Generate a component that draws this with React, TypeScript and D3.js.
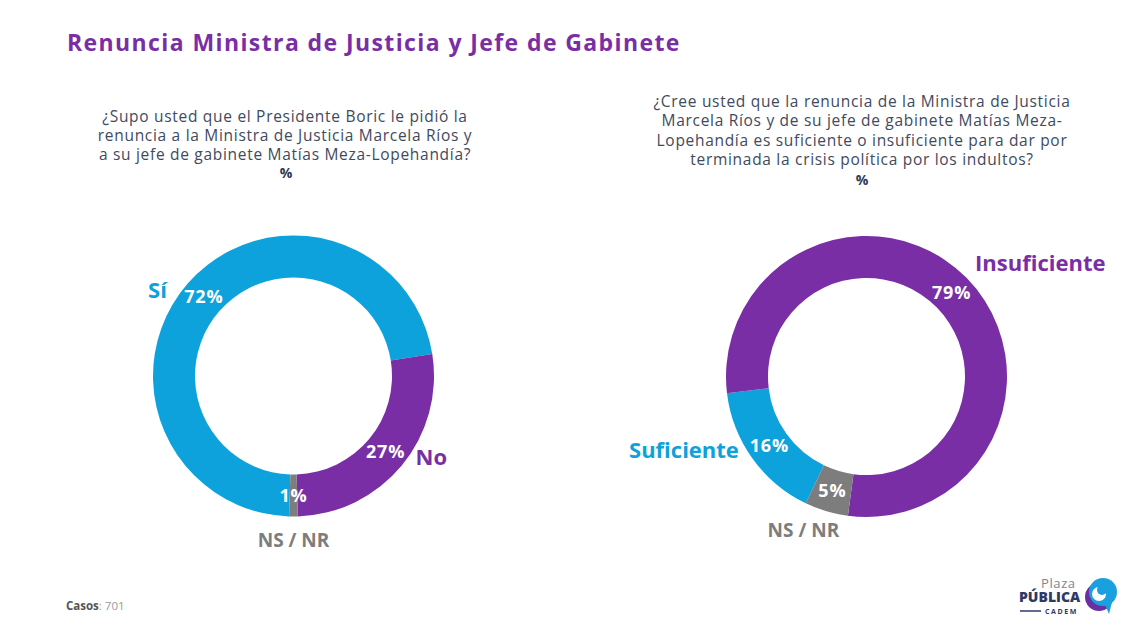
import React from "react";
import * as d3 from "d3";

// chart data
const leftCategories = ["Sí", "No", "NS / NR"];
const leftValues = [72, 27, 1];
const rightCategories = ["Suficiente", "Insuficiente", "NS / NR"];
const rightValues = [16, 79, 5];

const title = "Renuncia Ministra de Justicia y Jefe de Gabinete";
const leftQuestion = [
  "¿Supo usted que el Presidente Boric le pidió la",
  "renuncia a la Ministra de Justicia Marcela Ríos y",
  "a su jefe de gabinete Matías Meza-Lopehandía?",
];
const rightQuestion = [
  "¿Cree usted que la renuncia de la Ministra de Justicia",
  "Marcela Ríos y de su jefe de gabinete Matías Meza-",
  "Lopehandía es suficiente o insuficiente para dar por",
  "terminada la crisis política por los indultos?",
];
const casos = "701";

const BLUE = "#0ea2dc";
const PURPLE = "#7a2ea6";
const GRAY = "#7d7d7d";
const TEXT = "#3e4a5e";
const FONT = "'Open Sans', sans-serif";

const colorFor: Record<string, string> = {
  "Sí": BLUE,
  "Suficiente": BLUE,
  "No": PURPLE,
  "Insuficiente": PURPLE,
  "NS / NR": GRAY,
};

type LabelPos = { dx: number; dy: number; anchor: string };

const deg = (d: number) => (d * Math.PI) / 180;

const Donut = ({
  cx,
  cy,
  categories,
  values,
  start,
  labelPos,
}: {
  cx: number;
  cy: number;
  categories: string[];
  values: number[];
  start: number;
  labelPos: LabelPos[];
}) => {
  const inner = 98.5;
  const outer = 140.5;
  const pie = d3
    .pie<number>()
    .sort(null)
    .value((d) => d)
    .startAngle(deg(start))
    .endAngle(deg(start) + 2 * Math.PI);
  const arc = d3.arc<d3.PieArcDatum<number>>().innerRadius(inner).outerRadius(outer);
  const arcs = pie(values);
  return (
    <g transform={`translate(${cx},${cy})`}>
      {arcs.map((a, i) => (
        <path key={"p" + i} d={arc(a) || ""} fill={colorFor[categories[i]]} />
      ))}
      {arcs.map((a, i) => {
        const [x, y] = arc.centroid(a);
        const lp = labelPos[i];
        return (
          <g key={"t" + i}>
            <text
              x={x}
              y={y}
              dy="0.35em"
              textAnchor="middle"
              fill="#fff"
              fontFamily={FONT}
              fontWeight={700}
              fontSize={18}
              letterSpacing={0.8}
            >
              {values[i]}%
            </text>
            <text
              x={x + lp.dx}
              y={y + lp.dy}
              dy="0.35em"
              textAnchor={lp.anchor}
              fill={colorFor[categories[i]]}
              fontFamily={FONT}
              fontWeight={700}
              fontSize={categories[i] === "NS / NR" ? 19 : 22}
            >
              {categories[i]}
            </text>
          </g>
        );
      })}
    </g>
  );
};

const Logo = () => (
  <g>
    <text x={1041} y={588} fill="#7b8597" fontFamily={FONT} fontSize={13} letterSpacing={0.6}>
      Plaza
    </text>
    <text x={1019} y={602} fill="#2b3a67" fontFamily={FONT} fontWeight={800} fontSize={14}>
      PÚBLICA
    </text>
    <line x1={1020} x2={1041} y1={611} y2={611} stroke="#2b3a67" strokeWidth={1.5} />
    <text x={1045} y={613.5} fill="#2b3a67" fontFamily={FONT} fontWeight={700} fontSize={7} letterSpacing={1.6}>
      CADEM
    </text>
    <circle cx={1099} cy={597} r={14} fill="#6a2fa3" />
    <circle cx={1103} cy={592} r={14} fill="#1aa0de" />
    <path d="M1105,605 L1109,614 L1112,602 Z" fill="#1aa0de" />
    <circle cx={1099} cy={594} r={7} fill="#fff" />
    <circle cx={1102} cy={590} r={5} fill="#1aa0de" />
  </g>
);

export default function App() {
  return (
    <svg
      width={1136}
      height={632}
      style={{ position: "absolute", left: 0, top: 0, background: "#fff" }}
    >
      <rect width={1136} height={632} fill="#fff" />
      <text x={67} y={51} fill={PURPLE} fontFamily={FONT} fontWeight={700} fontSize={23} letterSpacing={1.4}>
        {title}
      </text>

      {leftQuestion.map((l, i) => (
        <text
          key={i}
          x={285}
          y={122 + i * 19}
          textAnchor="middle"
          fill={TEXT}
          fontFamily={FONT}
          fontSize={15.5}
          letterSpacing={0.7}
        >
          {l}
        </text>
      ))}
      <text x={286} y={178} textAnchor="middle" fill="#2d3a55" fontFamily={FONT} fontWeight={700} fontSize={14}>
        %
      </text>

      {rightQuestion.map((l, i) => (
        <text
          key={i}
          x={862}
          y={107 + i * 19.3}
          textAnchor="middle"
          fill={TEXT}
          fontFamily={FONT}
          fontSize={15.5}
          letterSpacing={0.7}
        >
          {l}
        </text>
      ))}
      <text x={862} y={185} textAnchor="middle" fill="#2d3a55" fontFamily={FONT} fontWeight={700} fontSize={14}>
        %
      </text>

      <Donut
        cx={293.5}
        cy={376}
        categories={leftCategories}
        values={leftValues}
        start={181.8}
        labelPos={[
          { dx: -37, dy: -7, anchor: "end" },
          { dx: 30, dy: 5, anchor: "start" },
          { dx: 0, dy: 45, anchor: "middle" },
        ]}
      />
      <Donut
        cx={866.5}
        cy={376.5}
        categories={rightCategories}
        values={rightValues}
        start={205.6}
        labelPos={[
          { dx: -30.5, dy: 4, anchor: "end" },
          { dx: 23.5, dy: -29, anchor: "start" },
          { dx: -29, dy: 39, anchor: "middle" },
        ]}
      />

      <text x={66} y={610} fontFamily={FONT} fontSize={11.5}>
        <tspan fill="#555" fontWeight={700}>Casos</tspan>
        <tspan fill="#9a9a9a">: {casos}</tspan>
      </text>

      <Logo />
    </svg>
  );
}
